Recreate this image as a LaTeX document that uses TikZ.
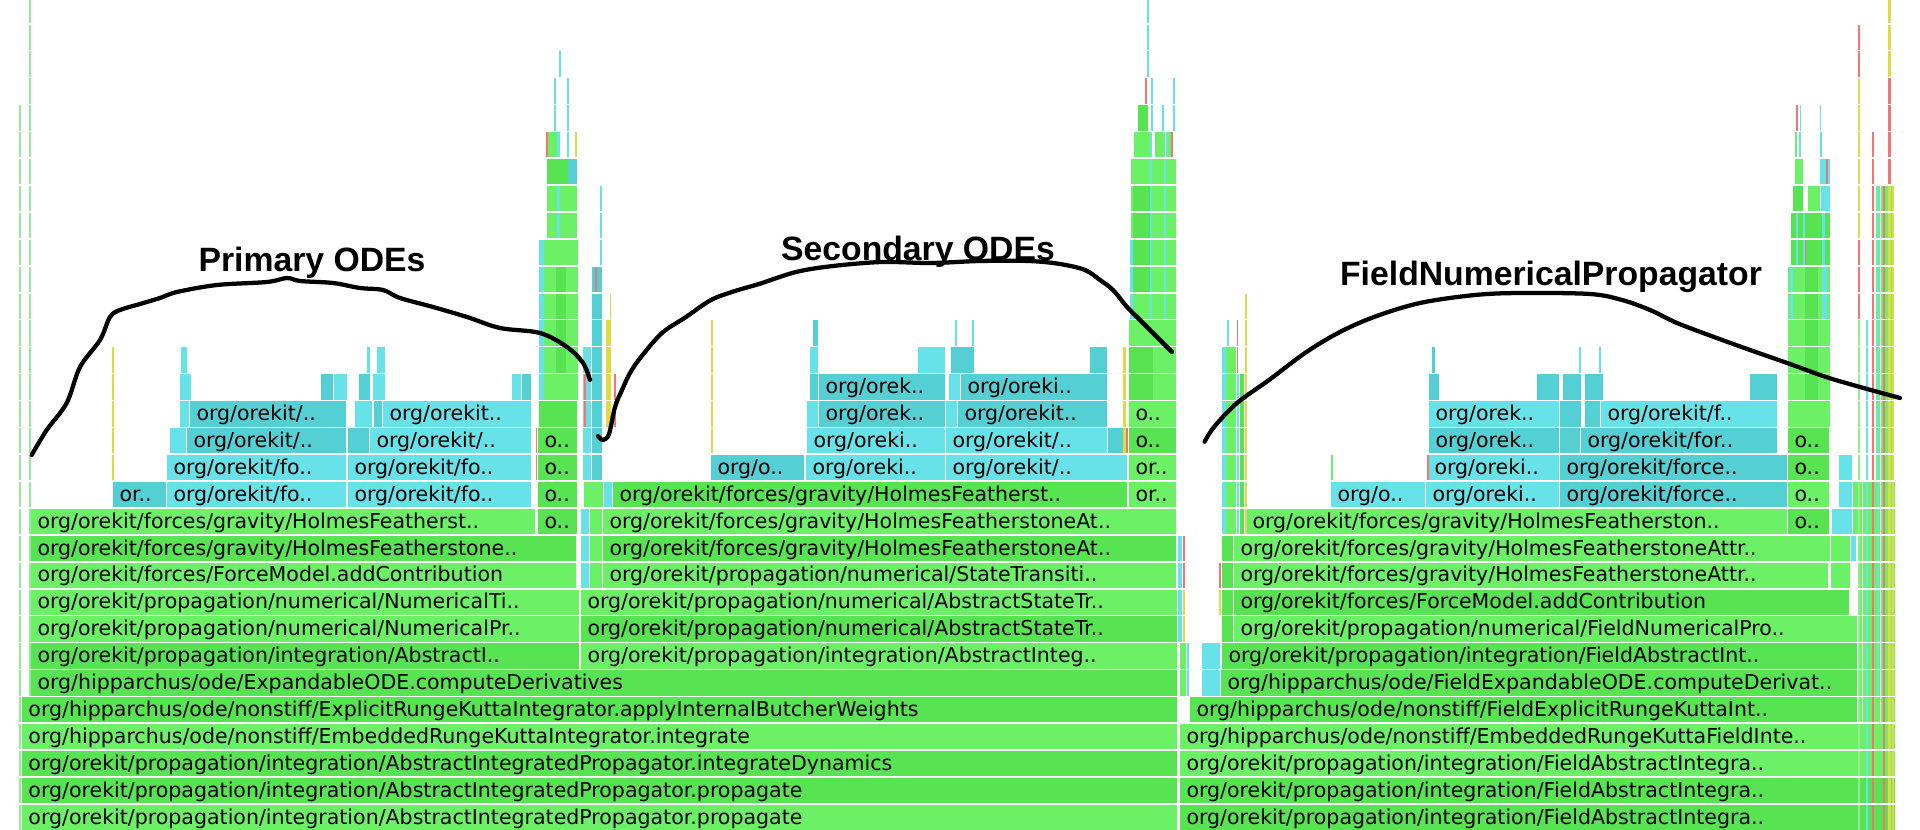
\documentclass[tikz,border=0pt]{standalone}
\usepackage{fontspec}
\setmainfont{DejaVu Sans}
\newfontfamily\barfont{DejaVu Sans}
\newfontfamily\ttlfont{Liberation Sans}
\definecolor{G1}{RGB}{108,241,102}
\definecolor{G2}{RGB}{88,227,82}
\definecolor{C1}{RGB}{102,226,232}
\definecolor{C2}{RGB}{84,208,212}
\definecolor{YY}{RGB}{222,220,70}
\definecolor{RR}{RGB}{240,118,118}
\definecolor{LG}{RGB}{150,236,150}
\newcounter{bn}
\tikzset{
  lbl/.style={anchor=base west, inner sep=0pt, outer sep=0pt, text=black, font=\barfont\fontsize{15.4}{15.4}\selectfont},
  ttl/.style={anchor=base, inner sep=0pt, text=black, font=\ttlfont\bfseries\fontsize{25.3}{26}\selectfont},
  hand/.style={draw=black, line width=3.2pt, line cap=round, line join=round}
}
% bar: row, x1, x2, colour, text
\newcommand{\fgb}[5]{%
  \fill[#4] (#2,{830-26.9*(#1)-25.3}) rectangle (#3,{830-26.9*(#1)});
  \stepcounter{bn}%
  \node[lbl] (n\arabic{bn}) at ({#2+6.5},{830-26.9*(#1)-6}) {#5};}
% sliver: row from, row to, x1, x2, colour
\newcommand{\slv}[5]{\foreach \rr in {#1,...,#2}{\fill[#5] (#3,{830-26.9*\rr-25.3}) rectangle (#4,{830-26.9*\rr});}}
\begin{document}
\begin{tikzpicture}[x=0.75pt,y=-0.75pt]
\useasboundingbox (0,0) rectangle (1920,830);
\fill[white] (0,0) rectangle (1920,830);
% ---------- left edge lines
\slv{0}{26}{19}{21}{LG}
\slv{5}{30}{29}{31}{LG}
% ---------- left section
\fgb{0}{22}{1177}{G1}{org/orekit/propagation/integration/AbstractIntegratedPropagator.propagate}
\fgb{1}{22}{1177}{G2}{org/orekit/propagation/integration/AbstractIntegratedPropagator.propagate}
\fgb{2}{22}{1177}{G2}{org/orekit/propagation/integration/AbstractIntegratedPropagator.integrateDynamics}
\fgb{3}{22}{1177}{G1}{org/hipparchus/ode/nonstiff/EmbeddedRungeKuttaIntegrator.integrate}
\fgb{4}{22}{1177}{G2}{org/hipparchus/ode/nonstiff/ExplicitRungeKuttaIntegrator.applyInternalButcherWeights}
\fgb{5}{31}{1177}{G2}{org/hipparchus/ode/ExpandableODE.computeDerivatives}
\fgb{6}{31}{579}{G2}{org/orekit/propagation/integration/AbstractI..}
\fgb{6}{581}{1177}{G1}{org/orekit/propagation/integration/AbstractInteg..}
\fgb{7}{31}{579}{G1}{org/orekit/propagation/numerical/NumericalPr..}
\fgb{7}{581}{1177}{G2}{org/orekit/propagation/numerical/AbstractStateTr..}
\fgb{8}{31}{579}{G1}{org/orekit/propagation/numerical/NumericalTi..}
\fgb{8}{581}{1177}{G1}{org/orekit/propagation/numerical/AbstractStateTr..}
\fgb{9}{31}{576}{G1}{org/orekit/forces/ForceModel.addContribution}
\fgb{9}{603}{1176}{G1}{org/orekit/propagation/numerical/StateTransiti..}
\fgb{10}{31}{576}{G2}{org/orekit/forces/gravity/HolmesFeatherstone..}
\fgb{10}{603}{1176}{G2}{org/orekit/forces/gravity/HolmesFeatherstoneAt..}
\fgb{11}{31}{535}{G1}{org/orekit/forces/gravity/HolmesFeatherst..}
\fgb{11}{538}{577}{G2}{o..}
\fgb{11}{603}{1176}{G1}{org/orekit/forces/gravity/HolmesFeatherstoneAt..}
\slv{9}{11}{581}{589}{C1}
\slv{9}{11}{590}{602}{G1}
\fgb{12}{113}{166}{C2}{or..}
\fgb{12}{167}{346}{C1}{org/orekit/fo..}
\fgb{12}{348}{531}{C1}{org/orekit/fo..}
\fgb{12}{538}{577}{G2}{o..}
\fgb{12}{613}{1127}{G2}{org/orekit/forces/gravity/HolmesFeatherst..}
\fgb{12}{1129}{1176}{G1}{or..}
\slv{12}{12}{584}{603}{G1}
\slv{12}{12}{604}{612}{C1}
\fgb{13}{167}{346}{C1}{org/orekit/fo..}
\fgb{13}{348}{531}{C1}{org/orekit/fo..}
\fgb{13}{538}{577}{G2}{o..}
\fgb{13}{711}{804}{C2}{org/o..}
\fgb{13}{806}{945}{C1}{org/oreki..}
\fgb{13}{946}{1127}{C1}{org/orekit/..}
\fgb{13}{1129}{1176}{G1}{or..}
\slv{14}{14}{170}{186}{C1}
\fgb{14}{187}{346}{C2}{org/orekit/..}
\slv{14}{14}{348}{369}{C2}
\fgb{14}{370}{531}{C1}{org/orekit/..}
\fgb{14}{538}{577}{G2}{o..}
\fgb{14}{807}{945}{C1}{org/oreki..}
\fgb{14}{946}{1107}{C1}{org/orekit/..}
\slv{14}{14}{1108}{1127}{C2}
\fgb{14}{1129}{1176}{G2}{o..}
\slv{15}{15}{180}{189}{C1}
\fgb{15}{190}{346}{C2}{org/orekit/..}
\slv{15}{15}{355}{372}{C1}
\slv{15}{15}{374}{382}{C2}
\fgb{15}{383}{531}{C1}{org/orekit..}
\slv{15}{15}{539}{577}{G2}
\slv{15}{15}{807}{818}{C1}
\fgb{15}{819}{945}{C2}{org/orek..}
\slv{15}{15}{946}{957}{C1}
\fgb{15}{958}{1107}{C2}{org/orekit..}
\fgb{15}{1129}{1176}{G1}{o..}
\slv{16}{16}{810}{818}{C2}
\fgb{16}{819}{945}{C2}{org/orek..}
\slv{16}{16}{949}{960}{C1}
\fgb{16}{961}{1107}{C2}{org/oreki..}
% left small cyan
\slv{13}{17}{112}{114}{YY}
\slv{16}{16}{180}{191}{C1}
\slv{16}{16}{321}{333}{C2}
\slv{16}{16}{334}{347}{C1}
\slv{16}{16}{359}{370}{C2}
\slv{16}{16}{373}{385}{C1}
\slv{16}{16}{512}{521}{C1}
\slv{16}{16}{522}{531}{C2}
\slv{17}{17}{181}{187}{C1}
\slv{17}{17}{367}{370}{C1}
\slv{17}{17}{377}{385}{C1}
% tower A
\slv{13}{14}{535.5}{537}{RR}
\slv{16}{21}{539}{578}{G1}
\slv{16}{21}{539}{544}{C1}
\slv{17}{20}{556}{566}{G2}
\slv{22}{23}{547}{577}{G1}
\slv{22}{23}{557}{560}{C1}
\slv{24}{24}{547}{568}{G2}
\slv{24}{24}{568}{577}{C2}
\slv{25}{25}{546}{548}{RR}
\slv{25}{25}{548}{557}{G1}
\slv{25}{25}{557}{560}{C1}
\slv{25}{25}{567}{569}{C1}
\slv{25}{25}{575}{577}{YY}
\slv{26}{27}{554}{556}{C1}
\slv{26}{27}{567}{569}{C1}
\slv{28}{28}{559}{561}{C1}
% slivers between A and middle
\slv{13}{17}{583}{591}{C1}
\slv{15}{16}{584}{585.5}{RR}
\slv{13}{20}{592}{602}{C2}
\slv{20}{20}{595}{596.5}{RR}
\slv{21}{23}{600}{601.5}{C1}
\slv{15}{18}{606}{611}{YY}
\slv{19}{19}{609.5}{611}{YY}
\slv{15}{16}{614}{615.5}{RR}
\slv{14}{18}{711}{713}{YY}
% middle small cyan
\slv{17}{17}{810}{818}{C1}
\slv{17}{17}{918}{945}{C1}
\slv{17}{17}{951}{974}{C2}
\slv{17}{17}{1090}{1107}{C2}
\slv{18}{18}{813}{818}{C2}
\slv{18}{18}{955}{957}{C1}
\slv{18}{18}{972}{974}{C1}
% tower B
\slv{14}{17}{1123}{1125.5}{YY}
\slv{14}{14}{1126}{1128}{RR}
\slv{16}{17}{1129}{1153}{G2}
\slv{16}{17}{1153}{1176}{G1}
\slv{18}{18}{1129}{1176}{G1}
\slv{19}{24}{1131}{1176}{G1}
\slv{20}{23}{1133}{1150}{G2}
\slv{19}{24}{1150}{1152}{C1}
\slv{19}{24}{1164}{1166}{C1}
\slv{19}{21}{1130}{1133}{C1}
\slv{25}{25}{1134}{1150}{G1}
\slv{25}{25}{1150}{1152}{C1}
\slv{25}{25}{1155}{1165}{G1}
\slv{25}{25}{1166}{1168}{C1}
\slv{25}{25}{1168}{1171}{G1}
\slv{25}{25}{1171}{1173}{RR}
\slv{26}{26}{1138}{1148}{G2}
\slv{26}{26}{1151}{1153}{C1}
\slv{26}{26}{1162}{1163.5}{C1}
\slv{26}{26}{1173}{1175}{C1}
\slv{27}{27}{1145}{1147}{RR}
\slv{27}{27}{1151}{1152.5}{C1}
\slv{27}{27}{1173}{1175}{C1}
\slv{28}{30}{1147}{1149}{C1}
% ---------- right section
\fgb{0}{1180}{1895}{G2}{org/orekit/propagation/integration/FieldAbstractIntegra..}
\fgb{1}{1180}{1895}{G2}{org/orekit/propagation/integration/FieldAbstractIntegra..}
\fgb{2}{1180}{1895}{G1}{org/orekit/propagation/integration/FieldAbstractIntegra..}
\fgb{3}{1180}{1895}{G1}{org/hipparchus/ode/nonstiff/EmbeddedRungeKuttaFieldInte..}
\fgb{4}{1190}{1857}{G2}{org/hipparchus/ode/nonstiff/FieldExplicitRungeKuttaInt..}
\slv{5}{6}{1202}{1220}{C1}
\fgb{5}{1221}{1857}{G2}{org/hipparchus/ode/FieldExpandableODE.computeDerivat..}
\fgb{6}{1222}{1857}{G2}{org/orekit/propagation/integration/FieldAbstractInt..}
\slv{7}{10}{1222}{1233}{G2}
\fgb{7}{1234}{1857}{G1}{org/orekit/propagation/numerical/FieldNumericalPro..}
\fgb{8}{1234}{1849}{G2}{org/orekit/forces/ForceModel.addContribution}
\fgb{9}{1234}{1828}{G1}{org/orekit/forces/gravity/HolmesFeatherstoneAttr..}
\fgb{10}{1234}{1830}{G1}{org/orekit/forces/gravity/HolmesFeatherstoneAttr..}
\slv{9}{10}{1831}{1850}{G1}
\slv{10}{10}{1851}{1856}{C1}
\fgb{11}{1246}{1787}{G1}{org/orekit/forces/gravity/HolmesFeatherston..}
\fgb{11}{1788}{1829}{G2}{o..}
\slv{11}{11}{1832}{1852}{C1}
\fgb{12}{1331}{1425}{C1}{org/o..}
\fgb{12}{1426}{1559}{C1}{org/oreki..}
\fgb{12}{1560}{1787}{C2}{org/orekit/force..}
\fgb{12}{1788}{1829}{G1}{o..}
\slv{12}{13}{1839}{1852}{C1}
\fgb{13}{1428}{1559}{C1}{org/oreki..}
\fgb{13}{1560}{1787}{C2}{org/orekit/force..}
\fgb{13}{1788}{1829}{G2}{o..}
\fgb{14}{1429}{1559}{C2}{org/orek..}
\slv{14}{14}{1560}{1580}{C2}
\fgb{14}{1581}{1777}{C2}{org/orekit/for..}
\fgb{14}{1788}{1829}{G2}{o..}
\fgb{15}{1429}{1559}{C1}{org/orek..}
\slv{15}{15}{1560}{1581}{C2}
\slv{15}{15}{1585}{1600}{C2}
\fgb{15}{1601}{1777}{C1}{org/orekit/f..}
\slv{16}{16}{1429}{1439}{C2}
\slv{16}{16}{1537}{1559}{C2}
\slv{16}{16}{1563}{1581}{C2}
\slv{16}{16}{1585}{1603}{C2}
\slv{16}{16}{1750}{1777}{C2}
\slv{17}{17}{1432}{1434.5}{C2}
\slv{17}{17}{1579}{1581}{C1}
\slv{17}{17}{1599}{1601}{C1}
\slv{13}{13}{1331}{1333}{G1}
\slv{13}{13}{1427}{1428.5}{RR}
% slivers between middle and right
\slv{5}{6}{1180}{1186}{G1}
\slv{5}{6}{1187}{1189}{C1}
\slv{7}{10}{1178}{1182}{C1}
\slv{9}{10}{1183}{1184.5}{RR}
\slv{7}{8}{1183}{1185}{YY}
\slv{8}{8}{1219}{1221}{YY}
\slv{9}{9}{1219}{1221}{RR}
\slv{11}{17}{1222}{1226}{C1}
\slv{11}{17}{1226}{1236}{G1}
\slv{11}{16}{1237}{1239}{C1}
\slv{17}{18}{1236.5}{1238}{RR}
\slv{11}{16}{1240}{1244}{G2}
\slv{11}{19}{1245}{1247}{YY}
\slv{18}{18}{1227}{1229}{C1}
% tower C
\slv{15}{20}{1788}{1830}{G1}
\slv{16}{20}{1805}{1818}{G2}
\slv{19}{20}{1790}{1793}{C1}
\slv{19}{20}{1822}{1827}{C1}
\slv{21}{22}{1791}{1830}{G2}
\slv{21}{22}{1796}{1798}{C1}
\slv{21}{22}{1803}{1805}{C1}
\slv{21}{22}{1822}{1825}{C1}
\slv{21}{21}{1805}{1806}{RR}
\slv{23}{23}{1793}{1803}{G2}
\slv{23}{23}{1808}{1820}{G1}
\slv{23}{23}{1821}{1830}{C1}
\slv{24}{24}{1795}{1803}{G1}
\slv{24}{24}{1820}{1830}{C1}
\slv{24}{24}{1826}{1828}{RR}
\slv{25}{25}{1795}{1797}{G1}
\slv{25}{25}{1799}{1801}{C1}
\slv{25}{25}{1820}{1821.5}{C1}
\slv{26}{26}{1796}{1797.5}{RR}
\slv{26}{26}{1799.5}{1801}{C1}
\slv{26}{26}{1819.5}{1821}{C1}
% far right slivers
\slv{4}{10}{1858}{1895}{G1}
\slv{11}{12}{1853}{1895}{G1}
\slv{13}{23}{1876}{1893}{G1}
\slv{4}{12}{1862}{1863}{white}
\slv{4}{23}{1880}{1881}{white}
\slv{0}{18}{1857.5}{1859.5}{LG}
\slv{19}{21}{1857.5}{1859.5}{RR}
\slv{22}{27}{1857.5}{1859.5}{YY}
\slv{28}{29}{1857.5}{1859.5}{RR}
\slv{0}{18}{1866}{1868}{C1}
\slv{0}{25}{1872}{1874}{RR}
\slv{0}{30}{1888}{1891}{YY}
\slv{24}{27}{1888}{1891}{RR}
\slv{0}{23}{1883}{1884.5}{RR}
\slv{5}{23}{1877}{1878.5}{C1}
\slv{0}{23}{1892}{1894}{YY}
% ---------- titles
\node[ttl] (t1) at (312,272) {Primary ODEs};
\node[ttl] (t2) at (918,261) {Secondary ODEs};
\node[ttl] (t3) at (1551,286) {FieldNumericalPropagator};
% ---------- hand-drawn curves
\draw[hand] plot[smooth, tension=0.55] coordinates {(31.7,455) (46.7,430) (66.7,403) (80,367) (100,340) (110,317) (120,310) (140,304) (160,298) (177,292) (217,285) (267,282) (287,278) (300,281) (333,283) (360,288) (383,290) (400,298) (433,307) (467,317) (500,328) (540,333) (567,347) (583,363) (590,380)};
\draw[hand] plot[smooth, tension=0.55] coordinates {(598,436) (603,440) (609,434) (615,407) (622,390) (630,373) (641,357) (662,333) (686,317) (711,300) (735,291) (759,284) (796,272) (833,266) (882,262) (931,263) (980,261) (1029,261) (1060,264) (1085,270) (1100,280) (1113,290) (1127,307) (1137,317) (1150,330) (1163,343) (1172,352)};
\draw[hand] plot[smooth, tension=0.55] coordinates {(1204.6,441.7) (1214,427) (1237,403) (1269,380) (1305,353) (1338,333) (1374,317) (1420,303) (1475,295) (1521,293) (1590,294) (1622,300) (1650,310) (1677,323) (1714,337) (1750,350) (1790,364) (1826,377) (1860,387) (1900,398)};
\end{tikzpicture}
\end{document}
